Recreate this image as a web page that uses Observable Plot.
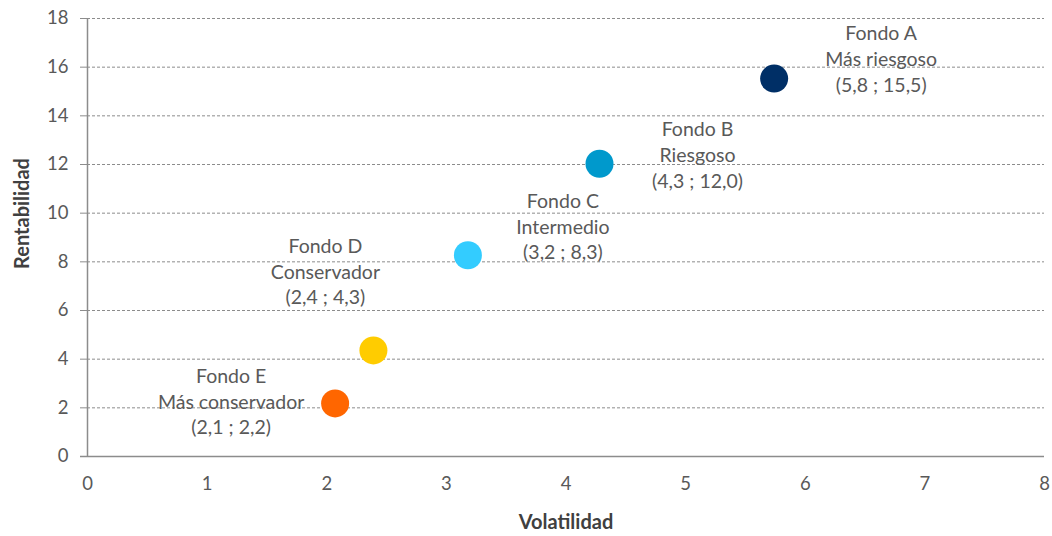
<!DOCTYPE html>
<html>
<head>
<meta charset="utf-8">
<script src="https://cdn.jsdelivr.net/npm/d3@7"></script>
<script src="https://cdn.jsdelivr.net/npm/@observablehq/plot@0.6"></script>
<style>
  html, body { margin: 0; padding: 0; background: #fff; }
</style>
</head>
<body>
<div id="chart"></div>
<script>
const fondos = ["Fondo A", "Fondo B", "Fondo C", "Fondo D", "Fondo E"];
const perfiles = ["Más riesgoso", "Riesgoso", "Intermedio", "Conservador", "Más conservador"];
const volatilidad = [5.74, 4.28, 3.18, 2.39, 2.07];
const rentabilidad = [15.53, 12.03, 8.27, 4.36, 2.18];
const etiquetasValor = ["(5,8 ; 15,5)", "(4,3 ; 12,0)", "(3,2 ; 8,3)", "(2,4 ; 4,3)", "(2,1 ; 2,2)"];
const colores = ["#002F66", "#0099CC", "#33CCFF", "#FFCC00", "#FF6600"];
const xTicks = [0, 1, 2, 3, 4, 5, 6, 7, 8];
const yTicks = [0, 2, 4, 6, 8, 10, 12, 14, 16, 18];

// label offsets (styling, in pixels)
const labelOffsets = [[107, -21], [98, -10], [95, -30], [-48, -80], [-104, -3]];

const data = fondos.map((f, i) => ({
  fondo: f,
  perfil: perfiles[i],
  x: volatilidad[i],
  y: rentabilidad[i],
  label: `${f}\n${perfiles[i]}\n${etiquetasValor[i]}`,
  color: colores[i]
}));

const font = "Lato, 'Open Sans', sans-serif";
const textColor = "#595959";

const labelMarks = data.map((d, i) => Plot.text([d], {
  x: "x", y: "y", text: "label",
  dx: labelOffsets[i][0], dy: labelOffsets[i][1],
  lineAnchor: "middle", lineHeight: 1.32,
  fontSize: 19.5, fill: textColor, textAnchor: "middle"
}));

const chart = Plot.plot({
  width: 1052,
  height: 536,
  marginLeft: 87,
  marginRight: 8,
  marginTop: 18,
  marginBottom: 80,
  style: { fontFamily: font, background: "#fff" },
  x: { domain: [0, 8] },
  y: { domain: [0, 18] },
  marks: [
    Plot.ruleY(yTicks.filter(t => t > 0), { stroke: "#8c8c8c", strokeWidth: 1, strokeDasharray: "3,2" }),
    Plot.axisY(yTicks, { tickSize: 7, tickPadding: 12, fontSize: 18.5, color: textColor, stroke: "#8c8c8c", label: null, tickFormat: d => String(d) }),
    Plot.axisX(xTicks, { tickSize: 0, tickPadding: 20, fontSize: 18.5, color: textColor, label: null, tickFormat: d => String(d) }),
    Plot.ruleX([0], { stroke: "#8c8c8c", strokeWidth: 1.5 }),
    Plot.ruleY([0], { stroke: "#8c8c8c", strokeWidth: 1.5, x1: 0, x2: 8, insetLeft: -7 }),
    Plot.dot(data, { x: "x", y: "y", r: 14, fill: "color", stroke: null }),
    ...labelMarks,
    Plot.text(["Volatilidad"], { frameAnchor: "bottom", dy: 72, fontSize: 20, fontWeight: "bold", fill: "#404040" }),
    Plot.text(["Rentabilidad"], { frameAnchor: "left", textAnchor: "middle", lineAnchor: "middle", dx: -65, dy: -24, rotate: -90, fontSize: 20, fontWeight: "bold", fill: "#404040" })
  ]
});

document.getElementById("chart").appendChild(chart);
</script>
</body>
</html>
